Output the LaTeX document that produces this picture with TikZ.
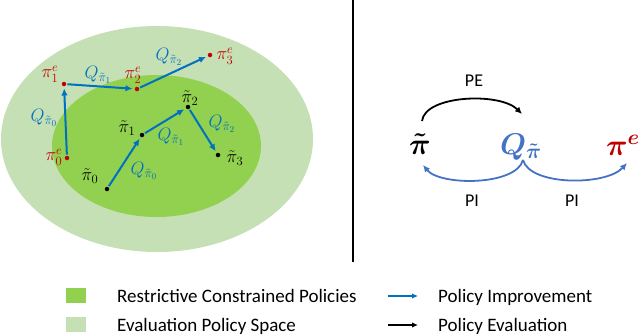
\RequirePackage{fix-cm}
\documentclass[tikz,border=0pt]{standalone}
\usepackage[no-math]{fontspec}
\setmainfont{Carlito}
\usetikzlibrary{arrows.meta}
\definecolor{outerg}{HTML}{C5E0B4}
\definecolor{innerg}{HTML}{92D050}
\definecolor{arrb}{HTML}{0070C0}
\definecolor{qblue}{HTML}{4472C4}
\definecolor{redp}{HTML}{C00000}
\tikzset{
  dotb/.style={circle, fill=black, inner sep=0pt, minimum size=4.5pt},
  dotr/.style={circle, fill=redp, inner sep=0pt, minimum size=4.5pt},
  barr/.style={draw=arrb, line width=2pt, -{Latex[length=7pt,width=6.5pt]}, shorten >=2pt, shorten <=1pt},
  ml/.style={inner sep=0pt, font=\fontsize{18}{21}\selectfont},
  ql/.style={ml, text=arrb},
  rl/.style={ml, text=redp},
  bigm/.style={inner sep=0pt, font=\fontsize{30}{34}\selectfont\boldmath},
  arcb/.style={draw=qblue, line width=1.8pt, -{Latex[length=7pt,width=6.5pt]}},
  arck/.style={draw=black, line width=1.8pt, -{Latex[length=7pt,width=6.5pt]}},
  legt/.style={anchor=base west, inner sep=0pt, font=\fontsize{19}{22}\selectfont},
  cyc/.style={inner sep=0pt, font=\fontsize{18}{21}\selectfont},
  sq/.style={inner sep=0pt, minimum width=20pt, minimum height=15pt},
  legarr/.style={line width=2pt, -{Latex[length=6pt,width=5.5pt]}}
}
\begin{document}
\begin{tikzpicture}[x=1pt,y=1pt]
\useasboundingbox (0,0) rectangle (640,-335);
% ellipses
\fill[outerg] (157,-139) ellipse [x radius=156, y radius=113];
\fill[innerg] (156.5,-146) ellipse [x radius=104.5, y radius=71];
% points
\node[dotr] (e0) at (67,-158) {};
\node[dotr] (e1) at (64,-84) {};
\node[dotr] (e2) at (137,-89) {};
\node[dotr] (e3) at (210,-55) {};
\node[dotb] (t0) at (107,-189) {};
\node[dotb] (t1) at (142,-135) {};
\node[dotb] (t2) at (188,-107) {};
\node[dotb] (t3) at (218,-155) {};
% arrows
\draw[barr] (e0) -- (e1);
\draw[barr] (e1) -- (e2);
\draw[barr] (e2) -- (e3);
\draw[barr] (t0) -- (t1);
\draw[barr] (t1) -- (t2);
\draw[barr] (t2) -- (t3);
% labels
\node[rl] (le0) at (54,-157) {$\pi_0^e$};
\node[rl] (le1) at (50,-74) {$\pi_1^e$};
\node[rl] (le2) at (133,-75) {$\pi_2^e$};
\node[rl] (le3) at (225,-56) {$\pi_3^e$};
\node[ml] (lt0) at (90,-176) {$\tilde{\pi}_0$};
\node[ml] (lt1) at (127,-128) {$\tilde{\pi}_1$};
\node[ml] (lt2) at (190,-98) {$\tilde{\pi}_2$};
\node[ml] (lt3) at (235,-158) {$\tilde{\pi}_3$};
\node[ql] (qa) at (44,-118) {$Q_{\tilde{\pi}_0}$};
\node[ql] (qb) at (98,-75) {$Q_{\tilde{\pi}_1}$};
\node[ql] (qc) at (169,-57) {$Q_{\tilde{\pi}_2}$};
\node[ql] (qd) at (144,-171) {$Q_{\tilde{\pi}_0}$};
\node[ql] (qe) at (171,-137) {$Q_{\tilde{\pi}_1}$};
\node[ql] (qf) at (222,-124) {$Q_{\tilde{\pi}_2}$};
% divider
\coordinate (d1) at (352.5,0);
\coordinate (d2) at (352.5,-262);
\draw[line width=2pt] (d1) -- (d2);
% right side
\node[bigm] (pt) at (420,-144) {$\tilde{\pi}$};
\node[bigm, text=qblue] (qp) at (521,-147) {$Q_{\tilde{\pi}}$};
\node[bigm, text=redp] (pe) at (623,-145) {$\pi^e$};
\coordinate (pa) at (422,-121);
\coordinate (qa1) at (522,-114);
\coordinate (qb1) at (523,-160);
\coordinate (pb) at (423,-165);
\coordinate (eb) at (627,-163);
\draw[arck] (pa) .. controls (425,-95) and (500,-92) .. (qa1);
\draw[arcb] (qb1) .. controls (516,-186) and (440,-186) .. (pb);
\draw[arcb] (qb1) .. controls (530,-186) and (606,-186) .. (eb);
\node[cyc] (lpe) at (474,-81) {PE};
\node[cyc] (lpi1) at (472,-201) {PI};
\node[cyc] (lpi2) at (572,-201) {PI};
% legend
\node[sq, fill=innerg] (s1) at (76,-295.5) {};
\node[sq, fill=outerg] (s2) at (76,-324.5) {};
\node[legt] (t1l) at (117,-302) {Restrictive Constrained Policies};
\node[legt] (t2l) at (117,-331) {Evaluation Policy Space};
\coordinate (b1) at (388,-296);
\coordinate (b2) at (418,-296);
\coordinate (k1) at (388,-325);
\coordinate (k2) at (418,-325);
\draw[legarr, draw=arrb] (b1) -- (b2);
\draw[legarr, draw=black] (k1) -- (k2);
\node[legt] (t3l) at (438,-302) {Policy Improvement};
\node[legt] (t4l) at (438,-331) {Policy Evaluation};
\end{tikzpicture}
\end{document}
